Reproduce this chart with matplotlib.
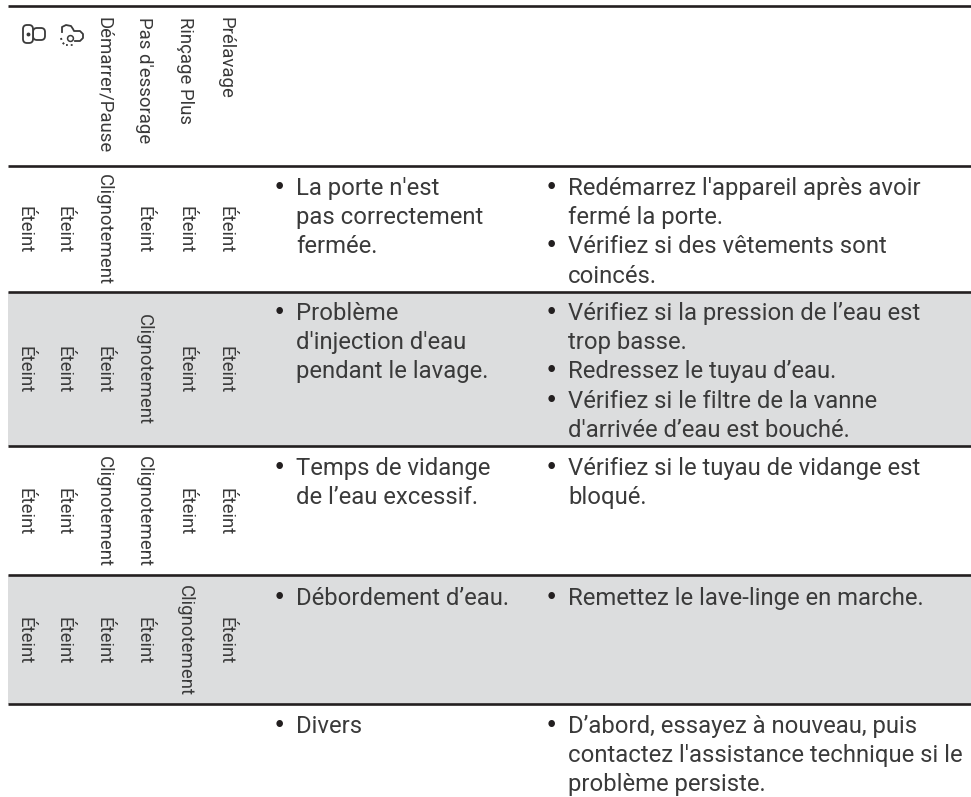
import matplotlib
matplotlib.use("Agg")
import matplotlib.pyplot as plt
from matplotlib.patches import Rectangle, FancyBboxPatch

# Data
colonnes = ["Démarrer/Pause", "Pas d'essorage", "Rinçage Plus", "Prélavage"]
etats = [
    ["Éteint", "Éteint", "Clignotement", "Éteint", "Éteint", "Éteint"],
    ["Éteint", "Éteint", "Éteint", "Clignotement", "Éteint", "Éteint"],
    ["Éteint", "Éteint", "Clignotement", "Clignotement", "Éteint", "Éteint"],
    ["Éteint", "Éteint", "Éteint", "Éteint", "Clignotement", "Éteint"],
]
causes = [
    [["La porte n'est", "pas correctement", "fermée."]],
    [["Problème", "d'injection d'eau", "pendant le lavage."]],
    [["Temps de vidange", "de l’eau excessif."]],
    [["Débordement d’eau."]],
    [["Divers"]],
]
solutions = [
    [["Redémarrez l'appareil après avoir", "fermé la porte."],
     ["Vérifiez si des vêtements sont", "coincés."]],
    [["Vérifiez si la pression de l’eau est", "trop basse."],
     ["Redressez le tuyau d’eau."],
     ["Vérifiez si le filtre de la vanne", "d'arrivée d’eau est bouché."]],
    [["Vérifiez si le tuyau de vidange est", "bloqué."]],
    [["Remettez le lave-linge en marche."]],
    [["D’abord, essayez à nouveau, puis", "contactez l'assistance technique si le", "problème persiste."]],
]

# Layout (pixels)
lignes_y = [6, 166, 292, 446, 575, 704]
colonnes_x = [24, 64, 104, 144, 185, 225]
x_gauche = 8
gris = "#dcddde"
noir = "#231f20"
texte = "#3a3a3a"
police = "Roboto"
taille_rot = 13.4
taille = 17.2
interligne = 29.2

fig = plt.figure(figsize=(9.71, 7.97), dpi=100)
ax = fig.add_axes([0, 0, 1, 1])
ax.set_xlim(0, 971)
ax.set_ylim(797, 0)
ax.axis("off")

# bandes grises
for i in [2, 4]:
    ax.add_patch(Rectangle((x_gauche, lignes_y[i]), 971 - x_gauche, lignes_y[i + 1] - lignes_y[i], color=gris, lw=0))

for y in lignes_y:
    ax.plot([x_gauche, 971], [y, y], color=noir, lw=1.9, solid_capstyle="butt")

# en-tete
for x, nom in zip(colonnes_x[2:], colonnes):
    ax.text(x, 17, nom, rotation=-90, ha="center", va="top", family=police,
            fontsize=taille_rot, color=texte)

# icones (porte et verrou)
ax.add_patch(FancyBboxPatch((33, 28), 12, 12, boxstyle="round,pad=0,rounding_size=4", fc="white", ec=texte, lw=1.3))
ax.add_patch(FancyBboxPatch((23, 25), 10, 18, boxstyle="round,pad=0,rounding_size=4", fc="white", ec=texte, lw=1.3))
ax.plot([28], [34], marker="o", ms=1.8, color=texte)
verrou_x = [62, 62, 66, 71, 73, 74, 80, 83, 83, 80, 75]
verrou_y = [32, 27, 25, 26, 29, 31, 31, 34, 38, 41, 41]
ax.plot(verrou_x, verrou_y, color=texte, lw=1.3)
ax.plot([61, 62, 65], [38, 42, 45], ls=":", color=texte, lw=1.4)
ax.plot([70], [38], marker="o", ms=4.2, mfc="white", mec=texte, mew=1.1)
ax.plot([66, 74], [45, 45], color=texte, lw=1.3, ls=":")

# etats
for r, ligne in enumerate(etats):
    yc = (lignes_y[r + 1] + lignes_y[r + 2]) / 2
    for x, val in zip(colonnes_x, ligne):
        ax.text(x, yc + 1, val, rotation=-90, ha="center", va="center", family=police,
                fontsize=taille_rot, color=texte)

# colonnes de texte
def puces(blocs, y_base, x_puce, x_txt):
    y = y_base
    for bloc in blocs:
        ax.text(x_puce, y - 1, "•", ha="center", va="baseline", family="DejaVu Sans", fontsize=16.5, color=noir)
        for l in bloc:
            ax.text(x_txt, y, l, ha="left", va="baseline", family=police, fontsize=taille, color=texte)
            y += interligne

bases = [195, 320, 475, 605, 733]
for b, c, s in zip(bases, causes, solutions):
    puces(c, b, 279, 296)
    puces(s, b, 551, 568)

fig.savefig("out.png", dpi=100)
